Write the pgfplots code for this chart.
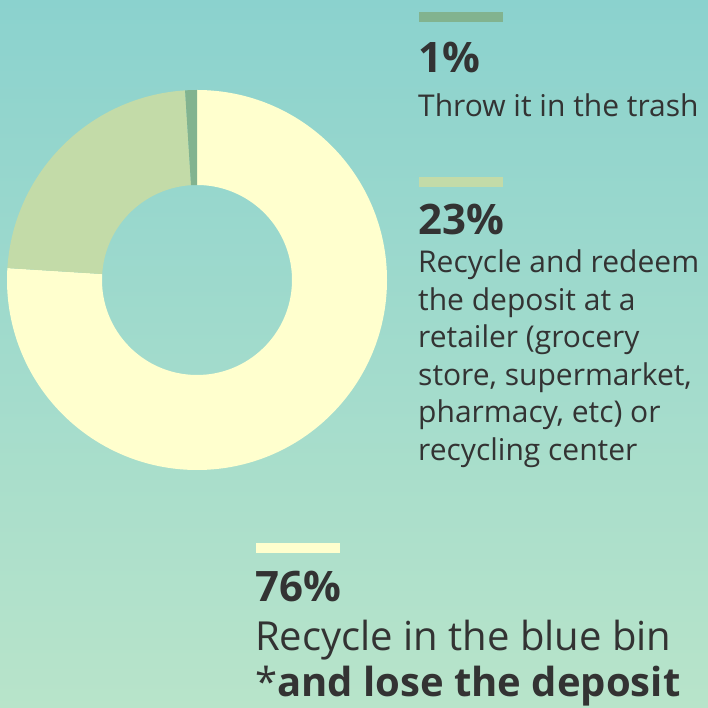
\documentclass[border=0pt]{standalone}
\usepackage{pgfplots}
\pgfplotsset{compat=1.18}
\usepackage{pgfplotstable}
\usepackage{fontspec}
\setmainfont{Open Sans}
\definecolor{bgtop}{RGB}{139,210,206}
\definecolor{bgbot}{RGB}{184,228,202}
\definecolor{cTrash}{RGB}{130,179,143}
\definecolor{cRedeem}{RGB}{195,219,168}
\definecolor{cBlue}{RGB}{255,255,206}
\definecolor{txt}{RGB}{51,51,51}
\pgfplotstableread{
label value color
Blue 76 cBlue
Redeem 23 cRedeem
Trash 1 cTrash
}\piedata
\begin{document}
\begin{tikzpicture}[x=1pt,y=1pt]
\path[use as bounding box] (0,0) rectangle (708,708);
\clip (0,0) rectangle (708,708);
\shade[top color=bgtop, bottom color=bgbot] (0,0) rectangle (708,708);
\begin{axis}[at={(7pt,238pt)}, anchor=south west, x=1pt, y=1pt, disabledatascaling,
  hide axis, xmin=-190, xmax=190, ymin=-190, ymax=190, clip=false]
\pgfplotstablegetrowsof{\piedata}
\pgfmathtruncatemacro\nrows{\pgfplotsretval-1}
\def\cum{0}
\pgfplotsforeachungrouped \i in {0,...,\nrows}{%
  \pgfplotstablegetelem{\i}{value}\of\piedata \let\v\pgfplotsretval
  \pgfplotstablegetelem{\i}{color}\of\piedata \let\c\pgfplotsretval
  \pgfmathsetmacro\aa{90-3.6*\cum}%
  \pgfmathsetmacro\ab{90-3.6*(\cum+\v)}%
  \pgfmathsetmacro\cum{\cum+\v}%
  \edef\temp{\noexpand\fill[\c] (axis cs:{190*cos(\aa)},{190*sin(\aa)}) arc[start angle=\aa, end angle=\ab, radius=190pt] -- (axis cs:{95*cos(\ab)},{95*sin(\ab)}) arc[start angle=\ab, end angle=\aa, radius=95pt] -- cycle;}%
  \temp
}
\end{axis}
% legend swatches
\fill[cTrash] (419,686) rectangle (503,696);
\fill[cRedeem] (419,521) rectangle (503,531);
\fill[cBlue] (256,155) rectangle (340,165);
\tikzset{lab/.style={anchor=base west, inner sep=0pt, text=txt}}
\node[lab, font=\fontsize{42}{50}\selectfont\bfseries] at (418,635) {1\%};
\node[lab, font=\fontsize{30}{36}\selectfont] at (418,591) {Throw it in the trash};
\node[lab, font=\fontsize{42}{50}\selectfont\bfseries] at (418,473) {23\%};
\node[lab, font=\fontsize{30}{36}\selectfont] at (418,435) {Recycle and redeem};
\node[lab, font=\fontsize{30}{36}\selectfont] at (418,397.5) {the deposit at a};
\node[lab, font=\fontsize{30}{36}\selectfont] at (418,360) {retailer (grocery};
\node[lab, font=\fontsize{30}{36}\selectfont] at (418,322.5) {store, supermarket,};
\node[lab, font=\fontsize{30}{36}\selectfont] at (418,285) {pharmacy, etc) or};
\node[lab, font=\fontsize{30}{36}\selectfont] at (418,247.5) {recycling center};
\node[lab, font=\fontsize{42}{50}\selectfont\bfseries] at (255,106) {76\%};
\node[lab, font=\fontsize{40}{48}\selectfont] at (255,57) {Recycle in the blue bin};
\node[lab, font=\fontsize{40}{48}\selectfont] at (255,11) {*\textbf{and lose the deposit}};
\end{tikzpicture}
\end{document}
